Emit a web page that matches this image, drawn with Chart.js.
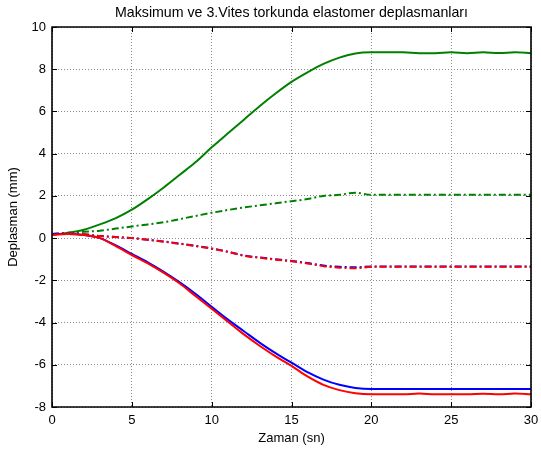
<!DOCTYPE html>
<html>
<head>
<meta charset="utf-8">
<script src="https://cdn.jsdelivr.net/npm/chart.js@4/dist/chart.umd.min.js"></script>
<style>
  html, body { margin: 0; padding: 0; background: #fff; }
  #chart { display: block; }
</style>
</head>
<body>
<canvas id="chart" width="541" height="454"></canvas>
<script>
// time axis (sn)
const zaman = [0,1,2,3,4,5,6,7,8,9,10,11,12,13,14,15,16,17,18,19,20,21,22,23,24,25,26,27,28,29,30];

// solid lines
const yesilDuz = [0.15,0.25,0.4,0.65,0.95,1.35,1.85,2.4,3.0,3.6,4.3,4.95,5.6,6.25,6.85,7.4,7.85,8.25,8.55,8.75,8.8,8.8,8.8,8.76,8.76,8.8,8.76,8.8,8.77,8.8,8.76];
const maviDuz = [0.2,0.2,0.15,0.0,-0.35,-0.75,-1.15,-1.6,-2.1,-2.65,-3.25,-3.85,-4.4,-4.95,-5.45,-5.9,-6.35,-6.7,-6.95,-7.1,-7.15,-7.15,-7.15,-7.15,-7.15,-7.15,-7.15,-7.15,-7.15,-7.15,-7.15];
const kirmiziDuz = [0.15,0.2,0.15,0.0,-0.38,-0.8,-1.2,-1.65,-2.15,-2.75,-3.35,-3.95,-4.55,-5.1,-5.6,-6.05,-6.55,-6.95,-7.2,-7.35,-7.4,-7.4,-7.4,-7.36,-7.4,-7.4,-7.4,-7.37,-7.4,-7.36,-7.4];

// dash-dot lines
const yesilNokta = [0.2,0.25,0.3,0.35,0.45,0.55,0.65,0.75,0.9,1.05,1.2,1.33,1.45,1.55,1.65,1.75,1.85,2.0,2.05,2.15,2.05,2.05,2.05,2.05,2.05,2.05,2.05,2.05,2.05,2.05,2.05];
const maviNokta = [0.2,0.22,0.18,0.1,0.05,0.0,-0.08,-0.16,-0.26,-0.37,-0.49,-0.64,-0.82,-0.92,-1.0,-1.08,-1.18,-1.3,-1.36,-1.38,-1.35,-1.35,-1.35,-1.35,-1.35,-1.35,-1.35,-1.35,-1.35,-1.35,-1.35];
const kirmiziNokta = [0.2,0.22,0.18,0.1,0.05,0.0,-0.08,-0.17,-0.27,-0.38,-0.5,-0.65,-0.83,-0.93,-1.02,-1.1,-1.2,-1.33,-1.4,-1.43,-1.36,-1.36,-1.36,-1.36,-1.36,-1.36,-1.36,-1.36,-1.36,-1.36,-1.36];

const xTicks = [0,5,10,15,20,25,30];
const yTicks = [-8,-6,-4,-2,0,2,4,6,8,10];
const baslik = 'Maksimum ve 3.Vites torkunda elastomer deplasmanları';

const FONT = 'Liberation Sans, Arial, Helvetica, sans-serif';
const dashDot = [7,3,2,3];

function seri(vals, color, dash) {
    return {
        data: zaman.map((x, i) => ({ x: x, y: vals[i] })),
        borderColor: color,
        borderWidth: 2,
        borderDash: dash || [],
        pointRadius: 0,
        fill: false,
        cubicInterpolationMode: 'monotone'
    };
}

// MATLAB style box with inward ticks, title centred over the axes
const kutuPlugin = {
    id: 'kutu',
    afterDatasetsDraw(chart) {
        const ctx = chart.ctx;
        const a = chart.chartArea;
        const sx = chart.scales.x, sy = chart.scales.y;
        ctx.save();
        ctx.setLineDash([]);
        ctx.strokeStyle = '#000000';
        ctx.lineWidth = 1;
        ctx.beginPath();
        xTicks.forEach(v => {
            const px = Math.round(sx.getPixelForValue(v)) + 0.5;
            ctx.moveTo(px, a.bottom); ctx.lineTo(px, a.bottom - 5);
            ctx.moveTo(px, a.top); ctx.lineTo(px, a.top + 5);
        });
        yTicks.forEach(v => {
            const py = Math.round(sy.getPixelForValue(v)) + 0.5;
            ctx.moveTo(a.left, py); ctx.lineTo(a.left + 5, py);
            ctx.moveTo(a.right, py); ctx.lineTo(a.right - 5, py);
        });
        ctx.stroke();
        ctx.lineWidth = 1.6;
        ctx.beginPath();
        ctx.rect(a.left, a.top, a.right - a.left, a.bottom - a.top);
        ctx.stroke();

        ctx.fillStyle = '#000';
        ctx.font = '14.2px ' + FONT;
        ctx.textAlign = 'center';
        ctx.textBaseline = 'middle';
        ctx.fillText(baslik, (a.left + a.right) / 2, 13);
        ctx.restore();
    }
};

// first dataset is drawn on top, so red comes before blue
new Chart(document.getElementById('chart').getContext('2d'), {
    type: 'line',
    data: {
        datasets: [
            seri(kirmiziDuz, '#ff0000'),
            seri(maviDuz, '#0000ff'),
            seri(kirmiziNokta, '#ff0000', dashDot),
            seri(maviNokta, '#0000ff', dashDot),
            seri(yesilNokta, '#008000', dashDot),
            seri(yesilDuz, '#008000')
        ]
    },
    options: {
        responsive: false,
        animation: false,
        layout: { padding: { top: 27, right: 10, bottom: 0, left: 0 } },
        plugins: {
            legend: { display: false },
            tooltip: { enabled: false },
            title: { display: false }
        },
        scales: {
            x: {
                type: 'linear',
                min: 0,
                max: 30,
                afterBuildTicks: s => { s.ticks = xTicks.map(v => ({ value: v })); },
                afterFit: s => { s.height = 47; s.paddingLeft = 0; s.paddingRight = 0; },
                ticks: { color: '#000', font: { family: FONT, size: 13 }, padding: 6, maxRotation: 0 },
                grid: { color: '#8c8c8c', drawTicks: false, lineWidth: 1 },
                border: { display: false, dash: [1, 2] },
                title: {
                    display: true,
                    text: 'Zaman (sn)',
                    color: '#000',
                    font: { family: FONT, size: 13 },
                    padding: { top: 0, bottom: 8 }
                }
            },
            y: {
                type: 'linear',
                min: -8,
                max: 10,
                afterBuildTicks: s => { s.ticks = yTicks.map(v => ({ value: v })); },
                afterFit: s => { s.width = 52; s.paddingTop = 0; s.paddingBottom = 0; },
                ticks: { color: '#000', font: { family: FONT, size: 13 }, padding: 6 },
                grid: { color: '#8c8c8c', drawTicks: false, lineWidth: 1 },
                border: { display: false, dash: [1, 2] },
                title: {
                    display: true,
                    text: 'Deplasman (mm)',
                    color: '#000',
                    font: { family: FONT, size: 13 },
                    padding: { top: 6, bottom: 0 }
                }
            }
        }
    },
    plugins: [kutuPlugin]
});
</script>
</body>
</html>
